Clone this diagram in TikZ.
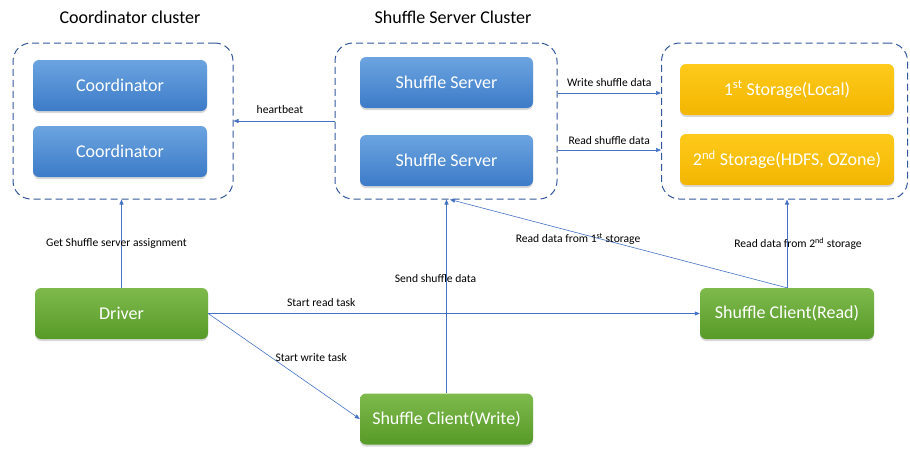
\documentclass[tikz,border=0pt]{standalone}
\usepackage{fontspec}
\setmainfont{Carlito}
\usetikzlibrary{arrows.meta,shadows}

\definecolor{blueTop}{HTML}{6CA4E0}
\definecolor{blueBot}{HTML}{3C7BC8}
\definecolor{greenTop}{HTML}{7EBA4C}
\definecolor{greenBot}{HTML}{579A28}
\definecolor{yellowTop}{HTML}{FFCA1C}
\definecolor{yellowBot}{HTML}{F2B600}
\definecolor{clusterLine}{HTML}{34579B}
\definecolor{linkBlue}{HTML}{4472C4}

\tikzset{
	box/.style={rectangle, rounded corners=6pt, minimum height=51pt, text=white,
		font=\fontsize{18}{21}\selectfont,
		drop shadow={shadow xshift=0pt, shadow yshift=-2pt, opacity=0.3}},
	bluebox/.style={box, top color=blueTop, bottom color=blueBot},
	greenbox/.style={box, top color=greenTop, bottom color=greenBot},
	yellowbox/.style={box, top color=yellowTop, bottom color=yellowBot},
	cluster/.style={draw=clusterLine, dash pattern=on 7pt off 4pt, rounded corners=18pt,
		line width=1pt, minimum height=156pt},
	title/.style={font=\fontsize{18}{21}\selectfont},
	link/.style={draw=linkBlue, line width=0.6pt, -{Triangle[length=5pt,width=4pt]}},
	lbl/.style={font=\fontsize{11.6}{13}\selectfont}
}

\begin{document}
\begin{tikzpicture}[x=1pt, y=-1pt]
				\useasboundingbox (0,0) rectangle (910,448);
				\node[title] (CT)at(130, 17) {Coordinator cluster};
				\node[title] (ST)at(453, 17) {Shuffle Server Cluster};
				\node[cluster, minimum width=220pt] (CC)at(123, 121) {};
				\node[cluster, minimum width=222pt] (SC)at(446, 121) {};
				\node[cluster, minimum width=246pt] (DC)at(784.5, 121) {};
				\node[bluebox, minimum width=174pt] (C1)at(120, 85.5) {Coordinator};
				\node[bluebox, minimum width=174pt] (C2)at(120, 151.5) {Coordinator};
				\node[bluebox, minimum width=173pt] (S1)at(446.5, 82.5) {Shuffle Server};
				\node[bluebox, minimum width=173pt] (S2)at(446.5, 160.5) {Shuffle Server};
				\node[yellowbox, minimum width=214pt] (D1)at(787, 89.5) {1\textsuperscript{st} Storage(Local)};
				\node[yellowbox, minimum width=214pt] (D2)at(787, 159.5) {2\textsuperscript{nd} Storage(HDFS, OZone)};
				\node[greenbox, minimum width=173pt] (DRV)at(121.5, 313.5) {Driver};
				\node[greenbox, minimum width=173pt] (SCW)at(446.5, 419) {Shuffle Client(Write)};
				\node[greenbox, minimum width=174pt] (SCR)at(787, 313.5) {Shuffle Client(Read)};
				\draw (SC.west) edge[link] node[lbl, above=4pt, xshift=-4pt]{heartbeat} (CC.east);
				\draw ([yshift=28pt]SC.east) edge[link] node[lbl, above=3pt]{Write shuffle data} ([yshift=28pt]DC.west);
				\draw ([yshift=-29pt]SC.east) edge[link] node[lbl, above=2pt]{Read shuffle data} ([yshift=-29pt]DC.west);
				\draw (DRV.north) edge[link] node[lbl, xshift=-5pt]{Get Shuffle server assignment} (DRV.north |- CC.south);
				\draw (SCW.north) edge[link] node[lbl, pos=0.59, xshift=-11pt]{Send shuffle data} (SCW.north |- SC.south);
				\draw (DRV.east) edge[link] node[lbl, pos=0.23, above=3pt]{Start read task} (SCR.west);
				\draw (DRV.east) edge[link] node[lbl, pos=0.42, anchor=west]{Start write task} (SCW.west);
				\draw (SCR.north) edge[link] node[lbl, pos=0.62, yshift=-6pt]{Read data from 1\textsuperscript{st} storage} ([xshift=4pt]SC.south);
				\draw (SCR.north) edge[link] node[lbl, xshift=11pt]{Read data from 2\textsuperscript{nd} storage} (SCR.north |- DC.south);
			\end{tikzpicture}
\end{document}
